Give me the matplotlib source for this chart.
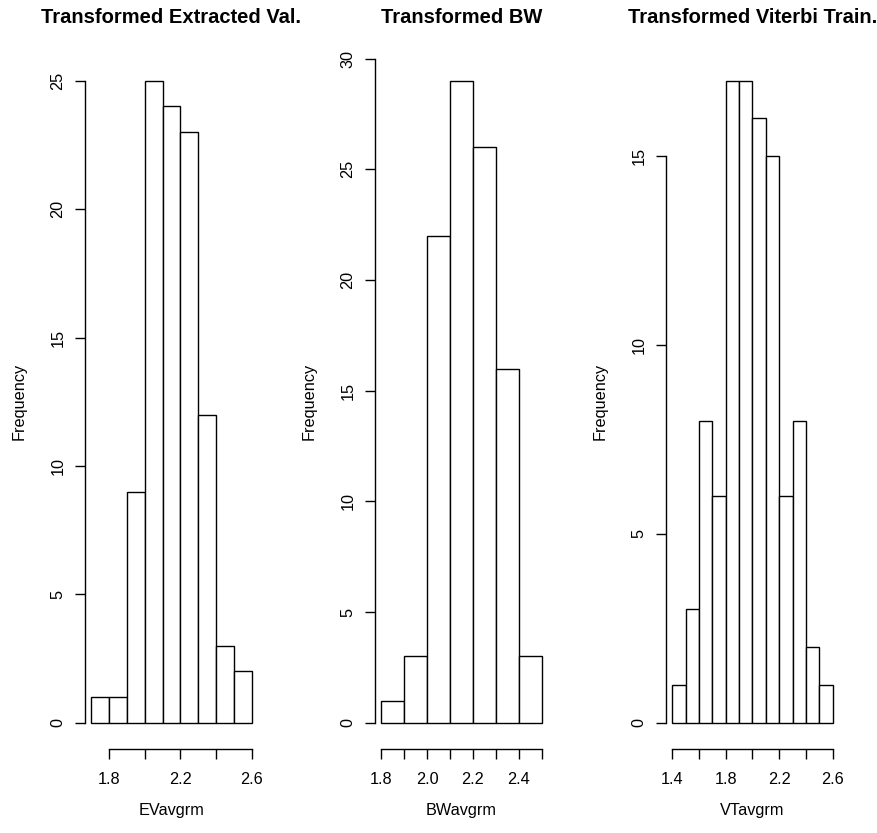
import numpy as np
import matplotlib
matplotlib.use("Agg")
import matplotlib.pyplot as plt

plt.rcParams["font.family"] = ["Liberation Sans", "DejaVu Sans"]

# histogram data (bin edges step 0.1)
evStart = 1.7
evCounts = [1, 1, 9, 25, 24, 23, 12, 3, 2]
bwStart = 1.8
bwCounts = [1, 3, 22, 29, 26, 16, 3]
vtStart = 1.4
vtCounts = [1, 3, 8, 6, 17, 17, 16, 15, 6, 8, 2, 1]
binWidth = 0.1

titles = ["Transformed Extracted Val.", "Transformed BW", "Transformed Viterbi Train."]
xnames = ["EVavgrm", "BWavgrm", "VTavgrm"]

evTicks = [1.8, 2.0, 2.2, 2.4, 2.6]
evLabels = ["1.8", "", "2.2", "", "2.6"]
bwTicks = [1.8, 1.9, 2.0, 2.1, 2.2, 2.3, 2.4, 2.5]
bwLabels = ["1.8", "", "2.0", "", "2.2", "", "2.4", ""]
vtTicks = [1.4, 1.6, 1.8, 2.0, 2.2, 2.4, 2.6]
vtLabels = ["1.4", "", "1.8", "", "2.2", "", "2.6"]

evYTicks = [0, 5, 10, 15, 20, 25]
bwYTicks = [0, 5, 10, 15, 20, 25, 30]
vtYTicks = [0, 5, 10, 15]

W, H = 878, 833
panelLeft = [85, 375, 666]
panelWidth = 173
plotBottom = 748.5
plotTop = 55


def drawHist(fig, i, start, counts, xticks, xlabels, yticks):
	left = panelLeft[i]
	ax = fig.add_axes([left / W, (H - plotBottom) / H, panelWidth / W, (plotBottom - plotTop) / H])
	edges = start + binWidth * np.arange(len(counts) + 1)
	ax.bar(edges[:-1], counts, width=binWidth, align="edge", color="white",
		edgecolor="black", linewidth=1.0)

	# R style 4% padding around the data range
	lo, hi = edges[0], edges[-1]
	r = hi - lo
	ax.set_xlim(lo - 0.04 * r, hi + 0.04 * r)
	m = max(counts)
	ax.set_ylim(-0.04 * m, 1.04 * m)

	for s in ["top", "right"]:
		ax.spines[s].set_visible(False)
	ax.spines["bottom"].set_bounds(xticks[0], xticks[-1])
	ax.spines["left"].set_bounds(yticks[0], yticks[-1])
	ax.spines["bottom"].set_linewidth(1.0)
	ax.spines["left"].set_linewidth(1.0)

	ax.set_xticks(xticks)
	ax.set_xticklabels(xlabels)
	ax.set_yticks(yticks)
	ax.set_yticklabels([str(t) for t in yticks], rotation=90, va="center")
	ax.tick_params(axis="x", direction="out", length=7.2, width=1.0, pad=10, labelsize=11.7)
	ax.tick_params(axis="y", direction="out", length=7.2, width=1.0, pad=6.8, labelsize=11.7)

	cx = (left + panelWidth / 2) / W
	fig.text(cx, 1 - 23 / H, titles[i], ha="center", va="baseline",
		fontsize=14.5, fontweight="bold")
	fig.text(cx, 1 - 815 / H, xnames[i], ha="center", va="baseline", fontsize=11.7)
	fig.text((left - 66) / W, (H - (plotBottom + plotTop) / 2) / H, "Frequency",
		rotation=90, ha="center", va="center", fontsize=11.7)
	return ax


def main():
	fig = plt.figure(figsize=(W / 100, H / 100), dpi=100)
	drawHist(fig, 0, evStart, evCounts, evTicks, evLabels, evYTicks)
	drawHist(fig, 1, bwStart, bwCounts, bwTicks, bwLabels, bwYTicks)
	drawHist(fig, 2, vtStart, vtCounts, vtTicks, vtLabels, vtYTicks)
	fig.savefig("out.png", dpi=100)


if __name__ == "__main__":
	main()
